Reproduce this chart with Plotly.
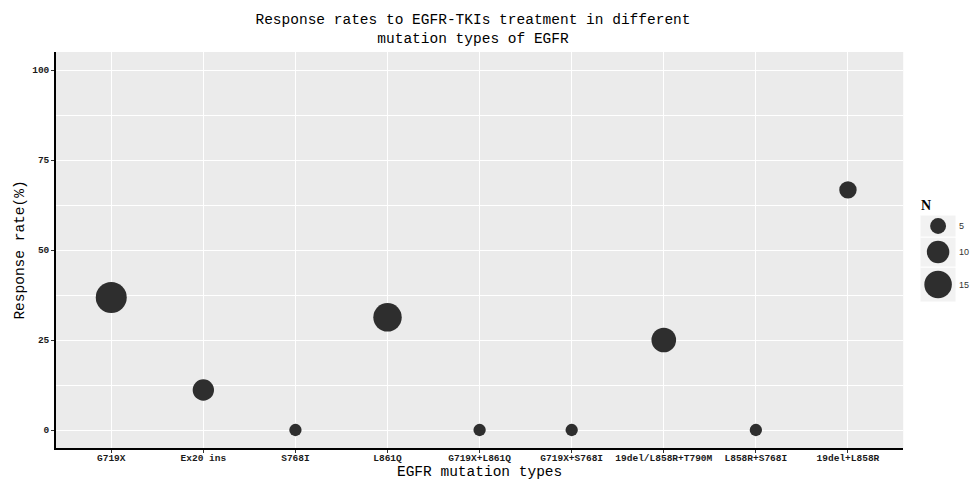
import plotly.graph_objects as go

# ---- data ----
categories = ["G719X", "Ex20 ins", "S768I", "L861Q", "G719X+L861Q",
              "G719X+S768I", "19del/L858R+T790M", "L858R+S768I", "19del+L858R"]
response_rate = [36.8, 11.1, 0, 31.3, 0, 0, 25.0, 0, 66.7]
n_patients = [19, 9, 3, 16, 3, 3, 12, 3, 6]
legend_sizes = [15, 10, 5]          # bottom -> top in the size key
y_ticks = [0, 25, 50, 75, 100]

# ---- layout helpers ----
W, H = 971, 482
L, R, T, B = 56, 2, 52, 34
pw, ph = W - L - R, H - T - B


def px_x(p):
    return (p - L) / pw


def px_y(p):
    return (H - B - p) / ph


SIZEREF = 2 * 19 / 31 ** 2
MARK = "#2E2E2E"
MONO = "Liberation Mono"

fig = go.Figure()

fig.add_trace(go.Scatter(
    x=categories, y=response_rate, mode="markers",
    marker=dict(size=n_patients, sizemode="area", sizeref=SIZEREF,
                color=MARK, opacity=1, line=dict(width=0)),
    showlegend=False, cliponaxis=False, hoverinfo="x+y",
))

# size key (drawn on its own small axes)
key_edges = [0, 35, 65, 87]
key_centers = [(key_edges[i] + key_edges[i + 1]) / 2 for i in range(3)]
fig.add_trace(go.Scatter(
    x=[0.5] * 3, y=key_centers, mode="markers",
    marker=dict(size=legend_sizes, sizemode="area", sizeref=SIZEREF,
                color=MARK, opacity=1, line=dict(width=0)),
    xaxis="x2", yaxis="y2", showlegend=False, cliponaxis=False, hoverinfo="skip",
))
shapes = []
for i in range(3):
    shapes.append(dict(type="rect", xref="x2", yref="y2", x0=0, x1=1,
                       y0=key_edges[i], y1=key_edges[i + 1],
                       fillcolor="#F2F2F2", line=dict(color="white", width=1),
                       layer="below"))

fig.update_layout(
    width=W, height=H,
    margin=dict(l=L, r=R, t=T, b=B),
    paper_bgcolor="white", plot_bgcolor="#EBEBEB",
    title=dict(text="Response rates to EGFR-TKIs treatment in different<br>mutation types of EGFR",
               x=473 / W, xref="container", xanchor="center",
               y=1 - 24 / H, yref="container", yanchor="top",
               font=dict(family=MONO, size=14.5, color="black")),
    xaxis=dict(domain=[0, px_x(906)], type="category", categoryorder="array",
               categoryarray=categories, range=[-0.6, len(categories) - 0.4],
               showgrid=True, gridcolor="white", gridwidth=1.2,
               ticks="outside", ticklen=3, tickcolor="#333333",
               ticklabelstandoff=-3,
               tickfont=dict(family=MONO, size=9.5, color="#1A1A1A", weight="bold"),
               showline=True, linecolor="black", linewidth=1.6, zeroline=False,
               title=dict(text="EGFR mutation types", standoff=1,
                          font=dict(family=MONO, size=14.5, color="black"))),
    yaxis=dict(range=[-5, 105], tickmode="array", tickvals=y_ticks,
               showgrid=True, gridcolor="white", gridwidth=1.2,
               minor=dict(tickvals=[12.5, 37.5, 62.5, 87.5], showgrid=True,
                          gridcolor="white", gridwidth=0.6, ticks=""),
               ticks="outside", ticklen=3, tickcolor="#333333",
               tickfont=dict(family=MONO, size=9.5, color="#1A1A1A", weight="bold"),
               showline=True, linecolor="black", linewidth=1.6, zeroline=False,
               title=dict(text="Response rate(%)", standoff=4,
                          font=dict(family=MONO, size=14.5, color="black"))),
    xaxis2=dict(domain=[px_x(923), px_x(959)], range=[0, 1], anchor="y2",
                visible=False, fixedrange=True),
    yaxis2=dict(domain=[px_y(302), px_y(215)], range=[key_edges[0], key_edges[-1]],
                anchor="x2", side="right", showgrid=False, zeroline=False,
                showline=False, ticks="", tickmode="array", tickvals=key_centers,
                ticktext=[str(s) for s in legend_sizes], ticklabelstandoff=2,
                tickfont=dict(family="Liberation Sans", size=9, color="#333333"),
                fixedrange=True),
    shapes=shapes,
    annotations=[dict(text="<b>N</b>", xref="paper", yref="paper",
                      x=px_x(922), y=px_y(205), xanchor="left", yanchor="middle",
                      showarrow=False,
                      font=dict(family="Liberation Serif", size=14, color="black"))],
)

fig.write_html("out.html", config={"displayModeBar": False},
               post_script="document.body.style.margin='0';document.body.style.overflow='hidden';")
